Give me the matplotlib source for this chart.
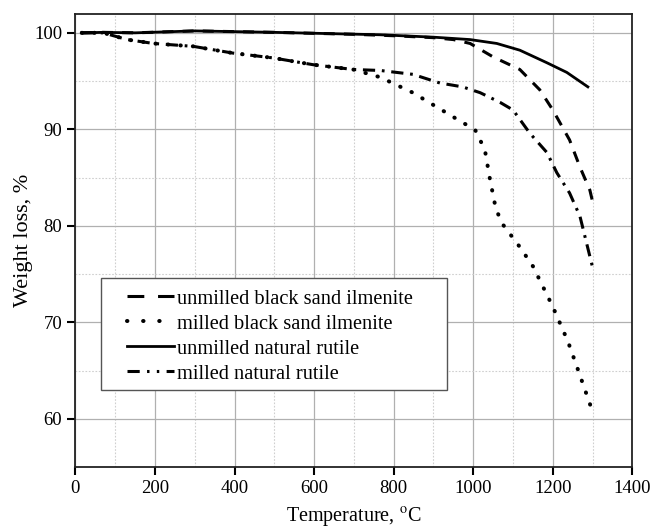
import matplotlib
matplotlib.use("Agg")
import matplotlib.pyplot as plt
from matplotlib.lines import Line2D
from matplotlib.patches import Rectangle
from matplotlib.ticker import MultipleLocator

plt.rcParams['font.family'] = ['Liberation Serif', 'DejaVu Serif']
plt.rcParams['mathtext.fontset'] = 'stix'

# TGA curves
temp_unmilled_ilm = [16, 70, 150, 300, 500, 700, 800, 900, 950, 992, 1050, 1117,
                     1167, 1200, 1242, 1268, 1293, 1301]
wt_unmilled_ilm = [100.0, 100.05, 100.0, 100.2, 100.05, 99.85, 99.7, 99.5, 99.3,
                   98.9, 97.5, 96.2, 94.1, 92.0, 88.9, 86.1, 83.7, 82.3]

temp_milled_ilm = [16, 70, 130, 196, 296, 396, 497, 597, 698, 766, 848, 933, 973,
                   1004, 1017, 1029, 1042, 1057, 1075, 1117, 1150, 1200, 1238,
                   1263, 1285, 1301]
wt_milled_ilm = [100.0, 100.0, 99.3, 98.9, 98.6, 97.9, 97.4, 96.7, 96.2, 95.4,
                 93.8, 91.7, 90.7, 90.0, 88.9, 87.9, 84.8, 81.7, 80.1, 77.8,
                 75.8, 71.6, 68.0, 65.1, 62.5, 60.6]

temp_unmilled_rut = [16, 70, 150, 300, 500, 766, 900, 992, 1059, 1117, 1185,
                     1235, 1288]
wt_unmilled_rut = [100.0, 100.05, 100.0, 100.2, 100.05, 99.8, 99.55, 99.3, 98.9,
                   98.2, 96.9, 95.9, 94.4]

temp_milled_rut = [16, 70, 130, 196, 296, 396, 497, 597, 698, 766, 848, 916, 973,
                   1017, 1067, 1100, 1142, 1185, 1210, 1242, 1268, 1301]
wt_milled_rut = [100.0, 100.0, 99.3, 98.9, 98.6, 97.9, 97.4, 96.7, 96.2, 96.1,
                 95.7, 94.8, 94.4, 93.8, 92.8, 92.0, 89.6, 87.6, 85.5, 83.4,
                 81.0, 75.5]

labels = ['unmilled black sand ilmenite', 'milled black sand ilmenite',
          'unmilled natural rutile', 'milled natural rutile']

fig = plt.figure(figsize=(6.53, 5.31), dpi=100)
ax = fig.add_axes([0.1155, 0.1205, 0.853, 0.854])

l1, = ax.plot(temp_unmilled_ilm, wt_unmilled_ilm, color='black', lw=2.2,
              linestyle=(0, (3.6, 3.0)))
l2, = ax.plot(temp_milled_ilm, wt_milled_ilm, color='black', lw=2.9,
              linestyle=(0, (0.1, 3.0)), dash_capstyle='round')
l3, = ax.plot(temp_unmilled_rut, wt_unmilled_rut, color='black', lw=2.0,
              linestyle='-')
l4, = ax.plot(temp_milled_rut, wt_milled_rut, color='black', lw=2.2,
              linestyle=(0, (4, 2.2, 0.9, 2.2)))

ax.set_xlim(0, 1400)
ax.set_ylim(55, 102)
ax.xaxis.set_major_locator(MultipleLocator(200))
ax.xaxis.set_minor_locator(MultipleLocator(100))
ax.yaxis.set_minor_locator(MultipleLocator(5))
ax.set_yticks([60, 70, 80, 90, 100])

ax.grid(True, which='major', color='#b0b0b0', lw=0.9)
ax.grid(True, which='minor', color='#cfcfcf', lw=0.8, linestyle=(0, (1.5, 1.5)))
ax.set_axisbelow(True)

ax.tick_params(which='major', direction='out', length=6, width=1.5,
               labelsize=13.5, top=False, right=False)
ax.tick_params(which='minor', length=0)
for s in ax.spines.values():
    s.set_linewidth(1.3)
    s.set_color('#222222')

ax.set_xlabel('Temperature, $^{\\mathrm{o}}$C', fontsize=14.5, labelpad=6)
ax.set_ylabel('Weight loss, %', fontsize=16, labelpad=1)

# legend box is wider on the sides than on top, so draw the frame separately
ax.add_patch(Rectangle((0.046, 0.170), 0.621, 0.247, transform=ax.transAxes,
                       facecolor='white', edgecolor='#555555', lw=1.0, zorder=4))
# legend samples: two long dashes, three dots, solid, dash-dot-dot
h1 = Line2D([], [], color='black', lw=2.2, linestyle=(0, (5.5, 4.5)))
h2 = Line2D([], [], color='black', lw=2.9, linestyle=(0, (0.1, 3.9)),
            dash_capstyle='round')
h4 = Line2D([], [], color='black', lw=2.2, linestyle=(0, (4, 2.4, 0.8, 2.4, 0.8, 2.4)))
leg = ax.legend([h1, h2, l3, h4], labels, loc='upper left',
                bbox_to_anchor=(0.092, 0.392), fontsize=14.7,
                frameon=False, handlelength=2.3, handletextpad=0.15,
                labelspacing=0.28, borderpad=0, borderaxespad=0)
leg.set_zorder(5)

fig.savefig('out.png', dpi=100)
